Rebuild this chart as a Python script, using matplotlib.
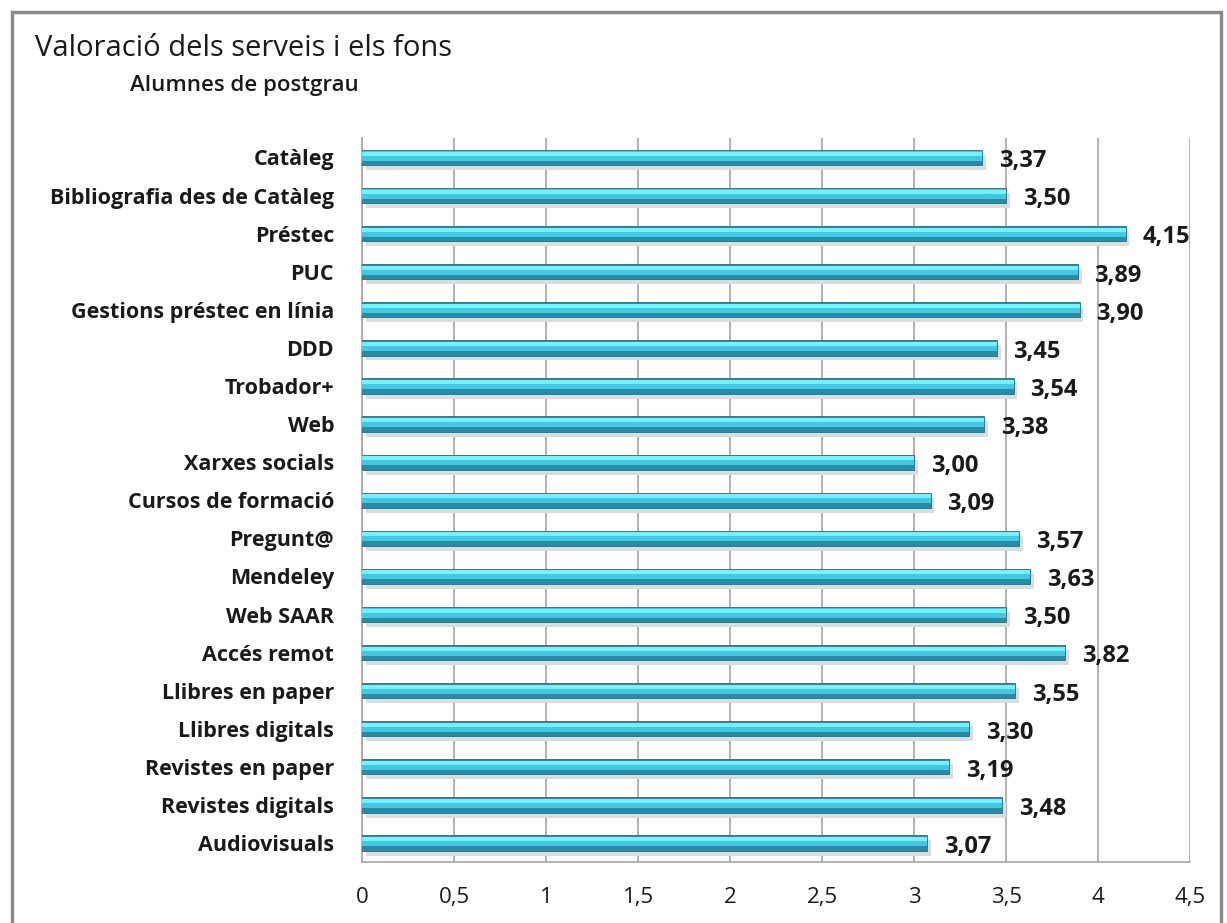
import numpy as np
import matplotlib.pyplot as plt
from matplotlib.patches import Rectangle

plt.rcParams['font.family'] = ['Open Sans', 'DejaVu Sans']

categories = ["Catàleg", "Bibliografia des de Catàleg", "Préstec", "PUC",
              "Gestions préstec en línia", "DDD", "Trobador+", "Web",
              "Xarxes socials", "Cursos de formació", "Pregunt@", "Mendeley",
              "Web SAAR", "Accés remot", "Llibres en paper", "Llibres digitals",
              "Revistes en paper", "Revistes digitals", "Audiovisuals"]
values = [3.37, 3.50, 4.15, 3.89, 3.90, 3.45, 3.54, 3.38, 3.00, 3.09,
          3.57, 3.63, 3.50, 3.82, 3.55, 3.30, 3.19, 3.48, 3.07]
xticks = [0, 0.5, 1, 1.5, 2, 2.5, 3, 3.5, 4, 4.5]
xtick_labels = ["0", "0,5", "1", "1,5", "2", "2,5", "3", "3,5", "4", "4,5"]

fig = plt.figure(figsize=(12.27, 9.23), dpi=100)
# outer chart frame
fig.patches.append(Rectangle((12 / 1227, -0.01), 1209 / 1227, 911 / 923 + 0.01,
                             transform=fig.transFigure, fill=False,
                             edgecolor='#8c8c8c', linewidth=2.5))
ax = fig.add_axes([0.295, 0.066, 0.675, 0.784])

y = np.arange(len(categories))
h = 0.40
# shadow, body and highlight give a flat "3d" look
ax.barh(y + 0.13, values, height=h, left=0.02, color='#dcdcdc', zorder=2)
ax.barh(y, values, height=h, color='#2c8aa3', edgecolor='#266f82', linewidth=0.6, zorder=3)
ax.barh(y - h * 0.1, values, height=h * 0.6, color='#45c6e2', zorder=4)
ax.barh(y - h * 0.26, values, height=h * 0.26, color='#72f2fd', zorder=5)

for yi, v in zip(y, values):
    ax.text(v + 0.09, yi + 0.1, f"{v:.2f}".replace('.', ','), va='center', ha='left',
            fontsize=17, fontweight='bold', color='#1a1a1a', zorder=6)

ax.set_xlim(0, 4.5)
ax.set_ylim(len(categories) - 0.5, -0.5)
ax.set_xticks(xticks)
ax.set_xticklabels(xtick_labels, fontsize=16, color='#1a1a1a')
ax.set_yticks(y)
ax.set_yticklabels(categories, fontsize=15.5, fontweight='bold', color='#1a1a1a')
ax.tick_params(axis='x', length=0, pad=18)
ax.tick_params(axis='y', length=0, pad=20)
ax.xaxis.grid(True, color='#a6a6a6', linewidth=1.2, zorder=0)
ax.set_axisbelow(True)
for side in ['left', 'bottom']:
    ax.spines[side].set_color('#a6a6a6')
    ax.spines[side].set_linewidth(1.2)
for side in ['top', 'right']:
    ax.spines[side].set_visible(False)

fig.text(35 / 1227, 1 - 48 / 923, "Valoració dels serveis i els fons", fontsize=21,
         va='center', ha='left', color='#1a1a1a')
fig.text(130 / 1227, 1 - 85 / 923, "Alumnes de postgrau", fontsize=16,
         fontweight='semibold', va='center', ha='left', color='#1a1a1a')

fig.savefig("out.png", dpi=100)
